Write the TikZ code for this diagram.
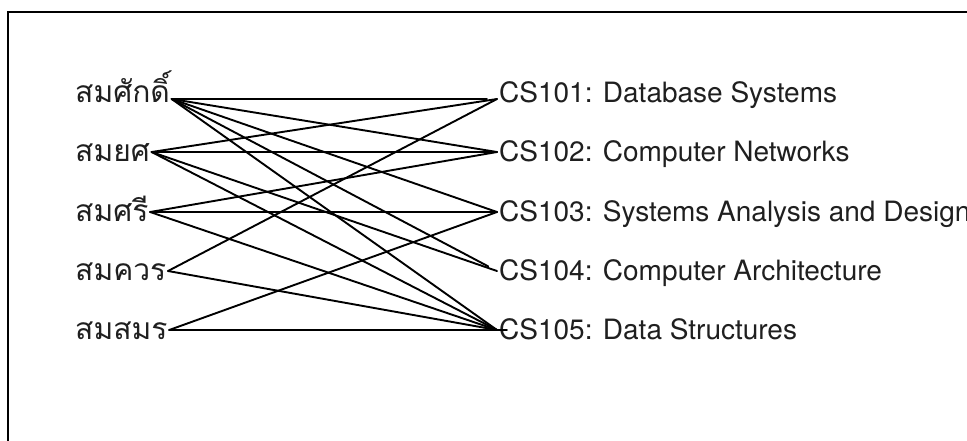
\documentclass[tikz,border=0pt]{standalone}
\usepackage{fontspec}
\setmainfont{TeX Gyre Heros}
\newfontfamily\thaifont[Script=Thai]{Loma}
\begin{document}
\begin{tikzpicture}[x=1pt,y=-1pt,
  student/.style={anchor=base west, inner xsep=1.5pt, inner ysep=0pt,
    text height=18pt, text depth=0pt, text=black!88, font=\thaifont\fontsize{30}{36}\selectfont},
  course/.style={anchor=base west, inner xsep=2pt, inner ysep=0pt,
    text height=18pt, text depth=0pt, text=black!88, font=\fontsize{28}{34}\selectfont},
  toprow/.style={text depth=12pt},
  link/.style={line width=1.9pt, line cap=round}]
\useasboundingbox (0,0) rectangle (967,440);
% outer frame (runs past the right and bottom edges)
\draw[line width=1.6pt] (8,12) rectangle (1000,480);

% students
\node[student,toprow] (s1) at (73.5,102) {สมศักดิ์};
\node[student] (s2) at (73.5,161) {สมยศ};
\node[student] (s3) at (73.5,221) {สมศรี};
\node[student] (s4) at (73.5,280) {สมควร};
\node[student] (s5) at (73.5,339) {สมสมร};

% courses
\node[course,toprow] (c1) at (497,102) {CS101: Database Systems};
\node[course] (c2) at (497,161) {CS102: Computer Networks};
\node[course] (c3) at (497,221) {CS103: Systems Analysis and Design};
\node[course] (c4) at (497,280) {CS104: Computer Architecture};
\node[course] (c5) at (497,339) {CS105: Data Structures};

% enrolments
\draw[link, shorten >=10pt] (s1.east) -- (c1.west);
\draw[link] (s1.east) -- (c2.west);
\draw[link] (s1.east) -- (c3.west);
\draw[link, shorten >=10pt] (s1.east) -- (c4.west);
\draw[link] (s1.east) -- (c5.west);

\draw[link] (s2.east) -- (c1.west);
\draw[link] (s2.east) -- (c2.west);
\draw[link] (s2.east) -- (c4.west);
\draw[link] (s2.east) -- (c5.west);

\draw[link] (s3.east) -- (c2.west);
\draw[link] (s3.east) -- (c3.west);
\draw[link] (s3.east) -- (c5.west);

\draw[link] (s4.east) -- (c1.west);
\draw[link] (s4.east) -- (c5.west);

\draw[link] (s5.east) -- (c3.west);
\draw[link, shorten >=-10pt] (s5.east) -- (c5.west);
\end{tikzpicture}
\end{document}
